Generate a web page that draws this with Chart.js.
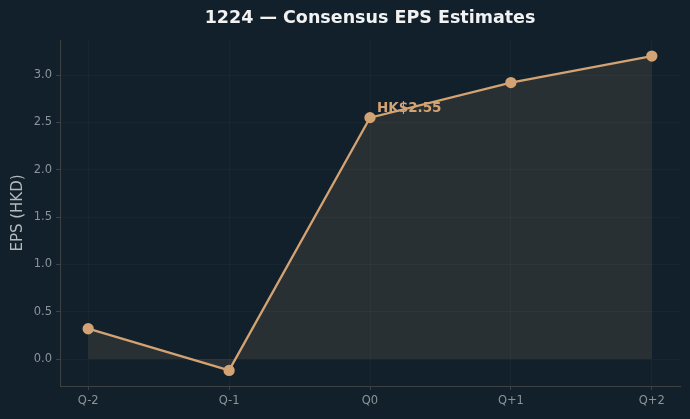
<!DOCTYPE html>
<html>
<head>
<meta charset="utf-8">
<script src="https://cdn.jsdelivr.net/npm/chart.js@4/dist/chart.umd.min.js"></script>
<style>
  html, body { margin: 0; padding: 0; background: #11202a; }
  #wrap { width: 690px; height: 419px; position: relative; }
</style>
</head>
<body>
<div id="wrap"><canvas id="eps"></canvas></div>
<script>
// data
const quarters = ['Q-2', 'Q-1', 'Q0', 'Q+1', 'Q+2'];
const epsValues = [0.32, -0.12, 2.55, 2.92, 3.20];
const yTicks = [0.0, 0.5, 1.0, 1.5, 2.0, 2.5, 3.0];
const highlightIndex = 2;
const highlightLabel = 'HK$2.55';

const lineColor = '#d4a373';
const tickColor = '#8c9499';
const spineColor = '#3e4142';
const gridColor = 'rgba(255,255,255,0.028)';
const fontFamily = '"DejaVu Sans", sans-serif';

// title + annotation drawn over the chart
const overlay = {
  id: 'overlay',
  afterDatasetsDraw(chart) {
    const ctx = chart.ctx;
    const xs = chart.scales.x, ys = chart.scales.y;
    ctx.save();
    ctx.fillStyle = '#f2f2f2';
    ctx.font = 'bold 17.5px ' + fontFamily;
    ctx.textAlign = 'center';
    ctx.textBaseline = 'middle';
    ctx.fillText('1224 \u2014 Consensus EPS Estimates', 370, 18);

    const px = xs.getPixelForValue(highlightIndex);
    const py = ys.getPixelForValue(epsValues[highlightIndex]);
    ctx.fillStyle = lineColor;
    ctx.font = 'bold 13.5px ' + fontFamily;
    ctx.textAlign = 'left';
    ctx.textBaseline = 'alphabetic';
    ctx.fillText(highlightLabel, px + 7, py - 6);
    ctx.restore();
  }
};

new Chart(document.getElementById('eps'), {
  type: 'line',
  data: {
    datasets: [{
      data: epsValues.map((v, i) => ({ x: i, y: v })),
      borderColor: lineColor,
      borderWidth: 2.3,
      backgroundColor: 'rgba(212,163,115,0.13)',
      fill: 'origin',
      pointRadius: 4.5,
      pointBackgroundColor: lineColor,
      pointBorderColor: lineColor,
      tension: 0
    }]
  },
  options: {
    responsive: true,
    maintainAspectRatio: false,
    animation: false,
    layout: { padding: { top: 40, right: 10, left: 9, bottom: 0 } },
    plugins: { legend: { display: false }, tooltip: { enabled: false } },
    scales: {
      x: {
        type: 'linear',
        min: -0.2,
        max: 4.2,
        afterFit(s) { s.height = 33; },
        afterBuildTicks(s) { s.ticks = quarters.map((q, i) => ({ value: i })); },
        ticks: {
          color: tickColor,
          font: { family: fontFamily, size: 11.5 },
          padding: 4,
          maxRotation: 0,
          callback: (v) => quarters[v]
        },
        grid: { color: gridColor, tickColor: spineColor, tickLength: 4 },
        border: { color: spineColor, width: 1 }
      },
      y: {
        min: -0.285,
        max: 3.37,
        afterFit(s) { s.width = 51; },
        afterBuildTicks(s) { s.ticks = yTicks.map(v => ({ value: v })); },
        ticks: {
          color: tickColor,
          font: { family: fontFamily, size: 11.5 },
          padding: 4,
          callback: (v) => v.toFixed(1)
        },
        grid: { color: gridColor, tickColor: spineColor, tickLength: 4 },
        border: { color: spineColor, width: 1 },
        title: {
          display: true,
          text: 'EPS (HKD)',
          color: '#b4b9bc',
          font: { family: fontFamily, size: 15 },
          padding: { top: 0, bottom: 2 }
        }
      }
    }
  },
  plugins: [overlay]
});
</script>
</body>
</html>
